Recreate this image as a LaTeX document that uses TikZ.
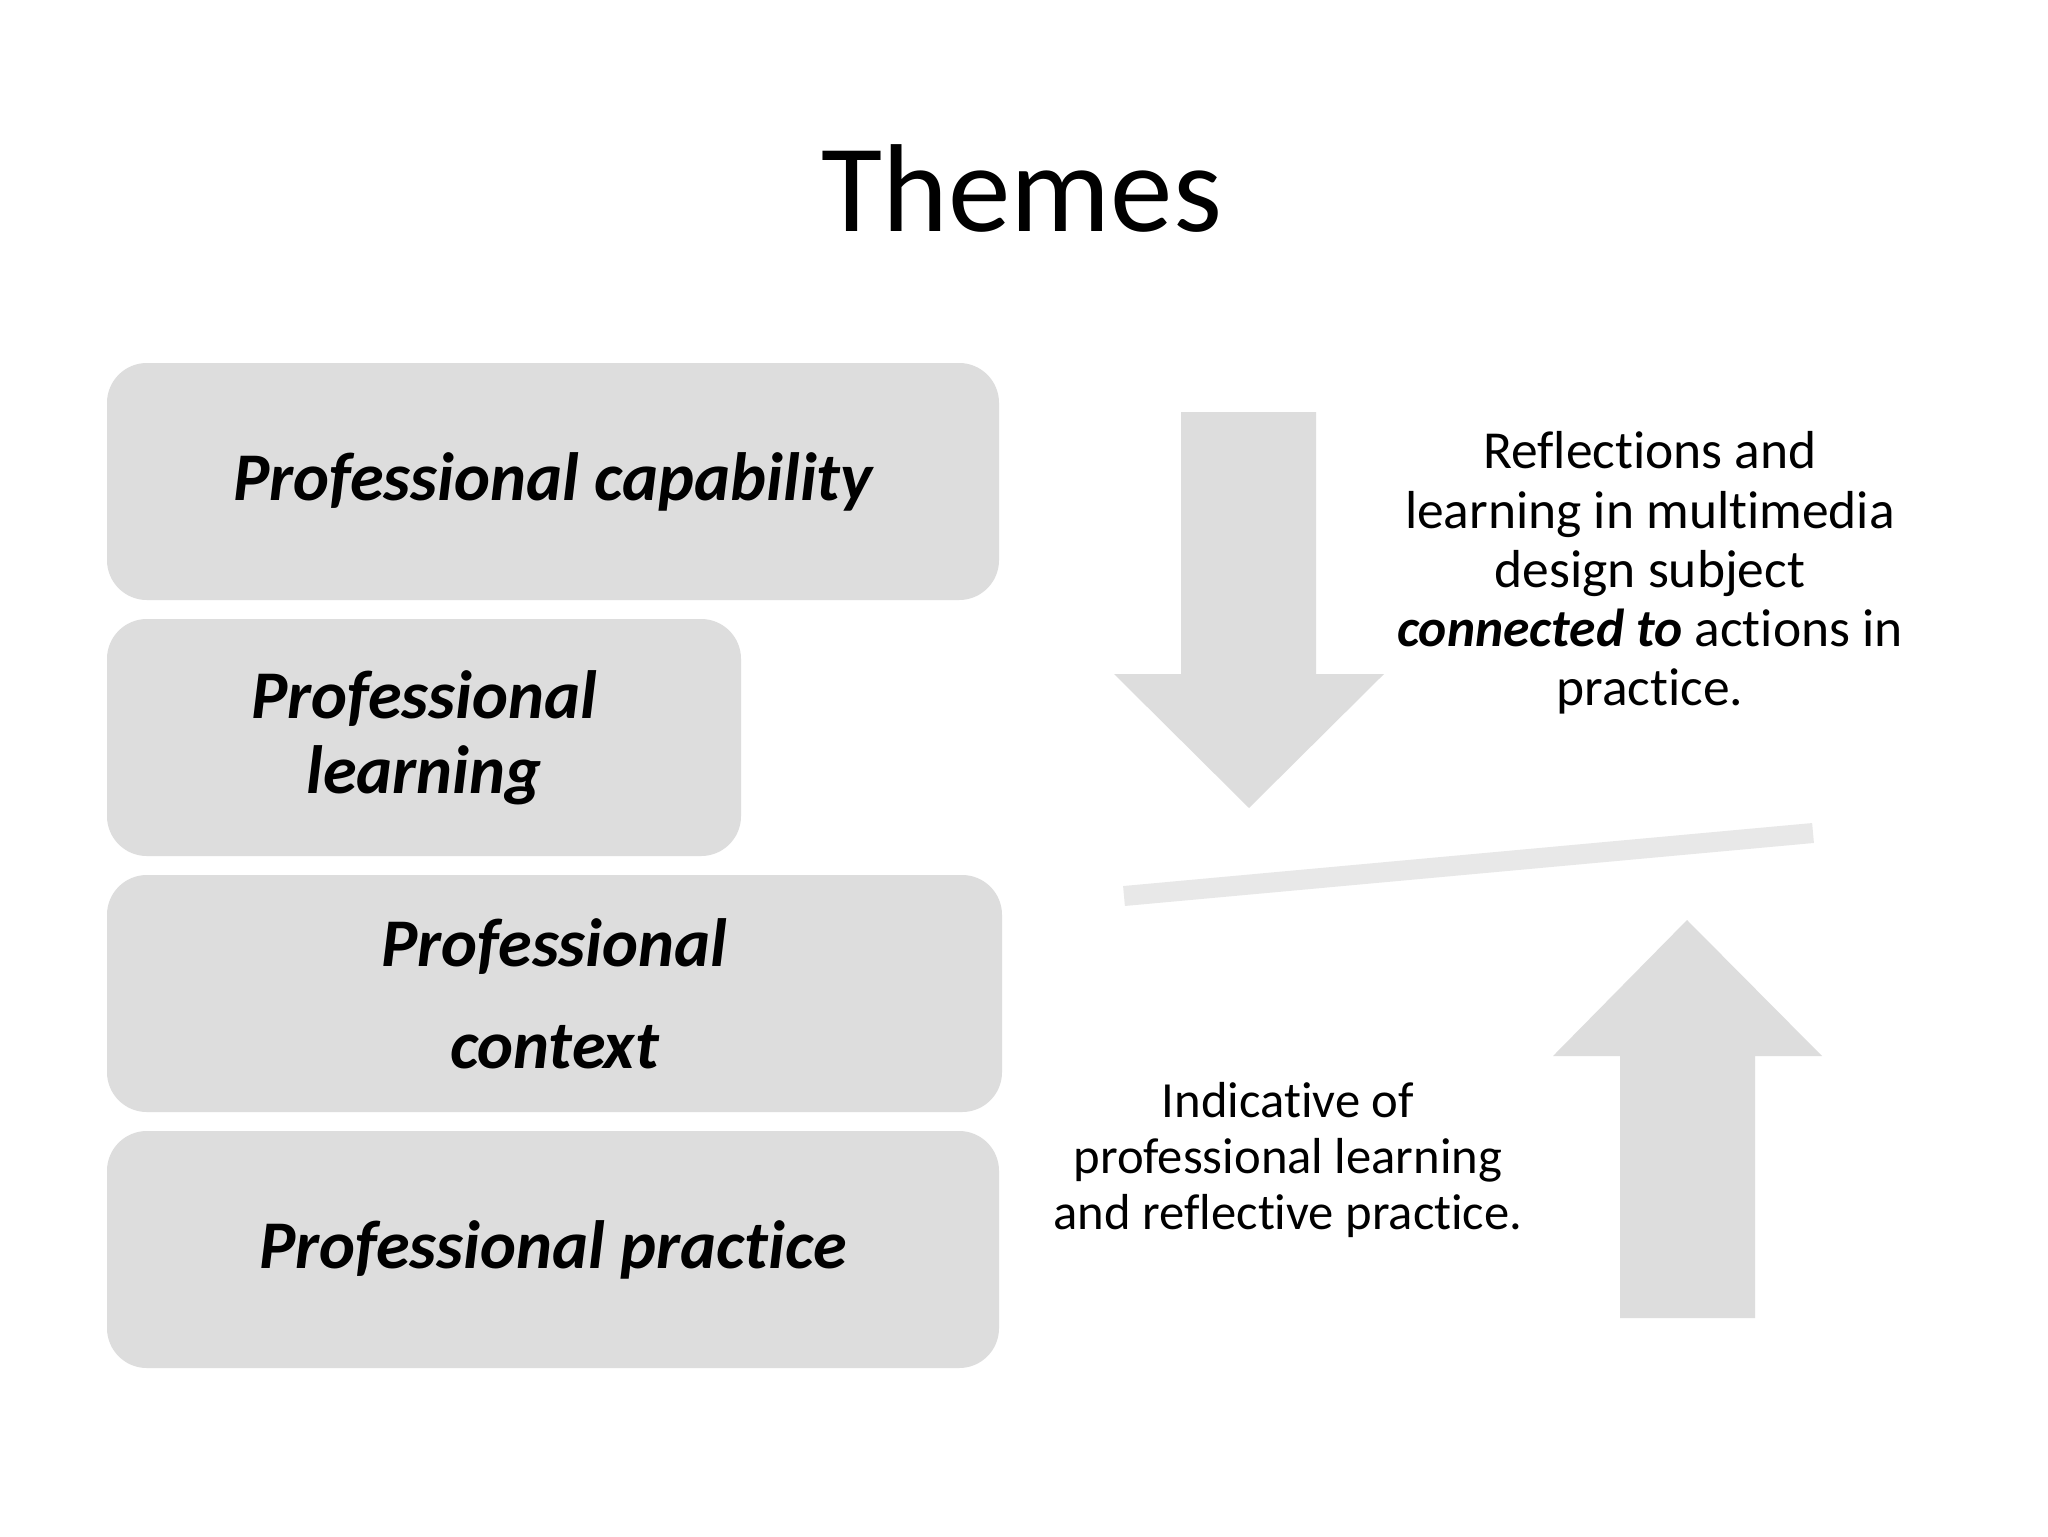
\documentclass[tikz,border=0pt]{standalone}
\usepackage{fontspec}
\setmainfont{Carlito}[RawFeature={-liga,-clig,-calt}]
\definecolor{boxgray}{HTML}{DDDDDD}
\definecolor{bargray}{HTML}{E8E8E8}
\tikzset{
	themebox/.style={rectangle, rounded corners=14pt, fill=boxgray, inner sep=0pt, align=center,
		minimum height=237*\px, font=\fontsize{24}{26.4}\selectfont\bfseries\itshape},
	notetext/.style={align=center, inner sep=0pt},
	blockarrow/.style={fill=boxgray}
}
\def\px{0.3516pt}
\begin{document}
\begin{tikzpicture}[x=0.3516pt, y=-0.3516pt]

\fill[white] (0,0) rectangle (2048,1536);
\useasboundingbox (0,0) rectangle (2048,1536);

\def\ystep{256}

\node[anchor=base, inner sep=0pt, font=\fontsize{44}{52.8}\selectfont] (title) at (1022, 231) {Themes};

\node[themebox, minimum width=892*\px] (capability) at (553, 481.5)           {Professional capability};
\node[themebox, minimum width=634*\px] (learning)   at (424, 481.5 + \ystep)   {Professional\\learning};
\node[themebox, minimum width=895*\px, font=\fontsize{24}{36}\selectfont\bfseries\itshape]
	(context) at (554.5, 481.5 + 2 * \ystep) {Professional\\context};
\node[themebox, minimum width=892*\px] (practice)   at (553, 481.5 + 3 * \ystep) {Professional practice};

\fill[blockarrow] (1181,412) -- (1316,412) -- (1316,674) -- (1384,674) -- (1249,808)
	-- (1114,674) -- (1181,674) -- cycle;
\fill[blockarrow] (1620,1318) -- (1755,1318) -- (1755,1056) -- (1822,1056) -- (1687,920)
	-- (1553,1056) -- (1620,1056) -- cycle;

\draw[bargray, line width=20*\px] (1124,896) -- (1813,833);

\node[notetext, font=\fontsize{18.8}{20.8}\selectfont] (reflections) at (1650, 573)
	{Reflections and\\learning in multimedia\\design subject\\\textbf{\textit{connected to}} actions in\\practice.};
\node[notetext, font=\fontsize{17.8}{19.7}\selectfont] (indicative) at (1288, 1160)
	{Indicative of\\professional learning\\and reflective practice.};
\end{tikzpicture}
\end{document}
